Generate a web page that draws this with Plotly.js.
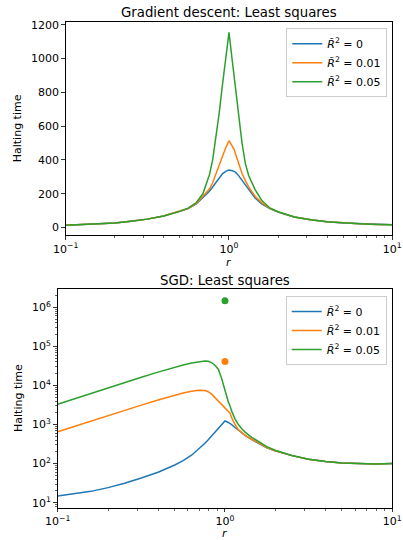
<!DOCTYPE html>
<html>
<head>
<meta charset="utf-8">
<script src="https://cdn.plot.ly/plotly-3.0.1.min.js"></script>
<style>html,body{margin:0;padding:0;background:#fff;}#chart{width:403px;height:540px;}</style>
</head>
<body>
<div id="chart"></div>
<script>
// r grid
var r = [0.1, 0.126, 0.158, 0.2, 0.251, 0.316, 0.398, 0.501, 0.562, 0.631, 0.692, 0.759, 0.794, 0.832, 0.871, 0.912, 0.955, 1, 1.047, 1.072, 1.096, 1.148, 1.202, 1.259, 1.318, 1.445, 1.585, 1.778, 1.995, 2.512, 3.162, 3.981, 5.012, 6.31, 7.943, 10];

// Gradient descent halting times
var gdR0   = [14, 17, 22, 27, 38, 50, 68, 95, 112, 140, 178, 215, 240, 265, 293, 318, 333, 340, 337, 333, 328, 306, 280, 253, 228, 175, 140, 112, 92, 63, 46, 34, 27, 22, 18, 16];
var gdR001 = [14, 17, 22, 27, 38, 50, 68, 95, 113, 143, 185, 228, 265, 320, 370, 428, 472, 514, 485, 465, 437, 378, 320, 278, 242, 185, 148, 114, 93, 63, 46, 34, 27, 22, 18, 16];
var gdR005 = [14, 17, 22, 27, 38, 50, 68, 96, 115, 148, 200, 313, 399, 527, 678, 845, 1000, 1155, 990, 900, 810, 645, 500, 380, 310, 225, 162, 116, 94, 63, 46, 34, 27, 22, 18, 16];

// SGD halting times
var sgdR0   = [14.8, 16.8, 19.5, 24.3, 31.3, 42.7, 60.3, 92.3, 119, 164, 229, 331, 407, 507, 638, 804, 1000, 1230, 1130, 1070, 990, 840, 715, 610, 530, 410, 325, 255, 212, 160, 130, 113, 104, 99, 98, 100];
var sgdR001 = [655, 902, 1239, 1694, 2312, 3141, 4236, 5623, 6397, 7112, 7516, 7450, 6900, 6000, 4900, 3900, 3150, 2600, 2150, 1950, 1500, 1000, 740, 615, 530, 420, 332, 258, 214, 160, 130, 113, 104, 99, 98, 100];
var sgdR005 = [3300, 4570, 6300, 8700, 11900, 16200, 21900, 29500, 33500, 37500, 40500, 42200, 41400, 38500, 33000, 26000, 15000, 7000, 3800, 3000, 2200, 1400, 1000, 780, 640, 470, 360, 272, 220, 162, 130, 113, 104, 99, 98, 100];

// isolated SGD points at r = 1
var dotR = [1];
var dotR001 = [41000];
var dotR005 = [1470000];

var seriesNames = ['<i>R\u0303</i><sup>2</sup> = 0', '<i>R\u0303</i><sup>2</sup> = 0.01', '<i>R\u0303</i><sup>2</sup> = 0.05'];
var colors = ['#1f77b4', '#ff7f0e', '#2ca02c'];

var xTickVals = [0.1, 1, 10];
var xTickText = ['10<sup>\u22121</sup>', '10<sup>0</sup>', '10<sup>1</sup>'];
var yTickVals1 = [0, 200, 400, 600, 800, 1000, 1200];
var yTickVals2 = [10, 100, 1000, 10000, 100000, 1000000];
var yTickText2 = ['10<sup>1</sup>', '10<sup>2</sup>', '10<sup>3</sup>', '10<sup>4</sup>', '10<sup>5</sup>', '10<sup>6</sup>'];

function minorVals(lo, hi) {
  var out = [];
  for (var e = lo; e <= hi; e++) {
    for (var k = 2; k <= 9; k++) out.push(k * Math.pow(10, e));
  }
  return out;
}

var F = 'DejaVu Sans, sans-serif';
var traces = [];
var gd = [gdR0, gdR001, gdR005];
var sgd = [sgdR0, sgdR001, sgdR005];
for (var i = 0; i < 3; i++) {
  traces.push({x: r, y: gd[i], type: 'scatter', mode: 'lines', name: seriesNames[i],
    line: {color: colors[i], width: 1.5}, xaxis: 'x', yaxis: 'y', legend: 'legend'});
}
for (var j = 0; j < 3; j++) {
  traces.push({x: r, y: sgd[j], type: 'scatter', mode: 'lines', name: seriesNames[j],
    line: {color: colors[j], width: 1.5}, xaxis: 'x2', yaxis: 'y2', legend: 'legend2'});
}
traces.push({x: dotR, y: dotR001, type: 'scatter', mode: 'markers', showlegend: false,
  marker: {color: colors[1], size: 7}, xaxis: 'x2', yaxis: 'y2'});
traces.push({x: dotR, y: dotR005, type: 'scatter', mode: 'markers', showlegend: false,
  marker: {color: colors[2], size: 7}, xaxis: 'x2', yaxis: 'y2'});

var common = {
  showgrid: false, zeroline: false, showline: true, mirror: true,
  linecolor: '#000', linewidth: 1, ticks: 'outside', ticklen: 3.5, tickwidth: 0.8,
  tickcolor: '#000', tickfont: {family: F, size: 11, color: '#000'}
};
function ax(o) { var a = JSON.parse(JSON.stringify(common)); for (var k in o) a[k] = o[k]; return a; }

var layout = {
  width: 403, height: 540,
  margin: {l: 0, r: 0, t: 0, b: 0},
  paper_bgcolor: '#fff', plot_bgcolor: '#fff',
  font: {family: F, size: 11, color: '#000'},
  xaxis: ax({type: 'log', domain: [0.1630, 0.9734], range: [-1, 1], anchor: 'y',
    tickmode: 'array', tickvals: xTickVals, ticktext: xTickText,
    minor: {tickmode: 'array', tickvals: minorVals(-1, 0), ticks: 'outside', ticklen: 2, tickwidth: 0.6, tickcolor: '#000'}}),
  yaxis: ax({domain: [0.5648, 0.9587], range: [-44, 1215], anchor: 'x',
    tickmode: 'array', tickvals: yTickVals1}),
  xaxis2: ax({type: 'log', domain: [0.1432, 0.9734], range: [-1, 1], anchor: 'y2',
    tickmode: 'array', tickvals: xTickVals, ticktext: xTickText,
    minor: {tickmode: 'array', tickvals: minorVals(-1, 0), ticks: 'outside', ticklen: 2, tickwidth: 0.6, tickcolor: '#000'}}),
  yaxis2: ax({type: 'log', domain: [0.0598, 0.4639], range: [0.872, 6.455], anchor: 'x2',
    tickmode: 'array', tickvals: yTickVals2, ticktext: yTickText2,
    minor: {tickmode: 'array', tickvals: minorVals(0, 6), ticks: 'outside', ticklen: 2, tickwidth: 0.6, tickcolor: '#000'}}),
  legend: {x: 0.961, y: 0.9476, xanchor: 'right', yanchor: 'top', bgcolor: 'rgba(255,255,255,0.8)',
    bordercolor: '#cccccc', borderwidth: 1, font: {family: F, size: 11, color: '#000'}, itemwidth: 30},
  legend2: {x: 0.9596, y: 0.4519, xanchor: 'right', yanchor: 'top', bgcolor: 'rgba(255,255,255,0.8)',
    bordercolor: '#cccccc', borderwidth: 1, font: {family: F, size: 11, color: '#000'}, itemwidth: 30},
  annotations: [
    {text: 'Gradient descent: Least squares', xref: 'paper', yref: 'paper', x: 0.568, y: 0.9769,
      xanchor: 'center', yanchor: 'middle', showarrow: false, font: {family: F, size: 13.3, color: '#000'}},
    {text: 'SGD: Least squares', xref: 'paper', yref: 'paper', x: 0.5583, y: 0.4806,
      xanchor: 'center', yanchor: 'middle', showarrow: false, font: {family: F, size: 13.3, color: '#000'}},
    {text: 'Halting time', xref: 'paper', yref: 'paper', x: 0.0454, y: 0.763, textangle: -90,
      xanchor: 'center', yanchor: 'middle', showarrow: false, font: {family: F, size: 11, color: '#000'}},
    {text: 'Halting time', xref: 'paper', yref: 'paper', x: 0.0471, y: 0.263, textangle: -90,
      xanchor: 'center', yanchor: 'middle', showarrow: false, font: {family: F, size: 11, color: '#000'}},
    {text: '<i>r</i>', xref: 'paper', yref: 'paper', x: 0.5683, y: 0.5135,
      xanchor: 'center', yanchor: 'middle', showarrow: false, font: {family: F, size: 11, color: '#000'}},
    {text: '<i>r</i>', xref: 'paper', yref: 'paper', x: 0.5583, y: 0.0125,
      xanchor: 'center', yanchor: 'middle', showarrow: false, font: {family: F, size: 11, color: '#000'}}
  ]
};

Plotly.newPlot('chart', traces, layout, {staticPlot: true, displayModeBar: false});
</script>
</body>
</html>
